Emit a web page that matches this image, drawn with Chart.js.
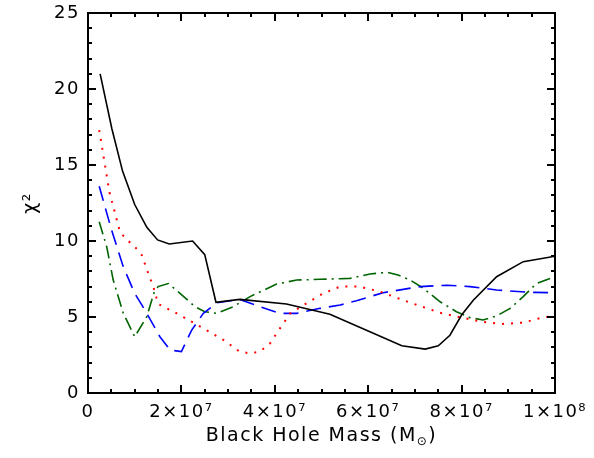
<!DOCTYPE html>
<html>
<head>
<meta charset="utf-8">
<script src="https://cdn.jsdelivr.net/npm/chart.js@4"></script>
<style>
  body { margin: 0; background: #fff; }
  canvas { display: block; }
</style>
</head>
<body>
<canvas id="chi2" width="594" height="458"></canvas>
<script>
Chart.defaults.font.family = "'DejaVu Sans', sans-serif";
Chart.defaults.color = '#000';

// black hole mass in units of 1e6 Msun, chi^2 values
const massBlack = [2.6, 5.1, 7.4, 10.0, 12.6, 14.9, 17.4, 22.4, 25.0, 27.4, 32.5, 42.5, 51.8, 61.1, 67.2, 72.2, 75.0, 77.5, 80.0, 82.5, 87.5, 93.2, 100];
const chiBlack = [21.0, 17.4, 14.6, 12.4, 10.9, 10.07, 9.8, 10.0, 9.1, 5.97, 6.16, 5.86, 5.18, 3.93, 3.11, 2.89, 3.11, 3.8, 5.13, 6.1, 7.65, 8.64, 9.0];

const massRed = [2.4, 4.6, 6.85, 8.3, 9.7, 11.5, 12.9, 14.0, 15.0, 19.0, 24.7, 29.0, 32.5, 34.7, 36.8, 39.0, 41.1, 43.3, 46.8, 50.4, 54.0, 58.2, 62.5, 69.0, 75.4, 79.7, 84.3, 88.6, 93.2, 97.5, 100];
const chiRed = [17.3, 13.2, 10.6, 10.07, 9.74, 9.08, 7.87, 7.0, 5.86, 5.24, 4.25, 3.49, 2.72, 2.61, 2.72, 3.27, 4.25, 5.24, 5.9, 6.56, 7.0, 7.0, 6.67, 5.94, 5.28, 4.98, 4.69, 4.54, 4.63, 4.98, 5.05];

const massBlue = [2.4, 5.07, 7.56, 10.0, 12.6, 15.4, 17.6, 20.0, 22.2, 24.7, 27.6, 32.5, 36.8, 41.1, 44.7, 49.7, 54.0, 57.5, 63.2, 71.1, 76.8, 81.8, 87.5, 94.6, 100];
const chiBlue = [13.6, 10.7, 8.3, 6.56, 5.24, 3.7, 2.83, 2.72, 4.14, 5.24, 5.94, 6.16, 5.68, 5.24, 5.24, 5.57, 5.79, 6.07, 6.6, 7.0, 7.09, 7.0, 6.78, 6.62, 6.6];

const massGreen = [2.4, 4.0, 5.4, 7.56, 10.0, 12.6, 14.1, 15.0, 17.2, 19.7, 22.9, 25.0, 27.6, 31.1, 34.7, 40.4, 44.7, 49.7, 54.0, 56.1, 60.4, 64.0, 66.4, 69.0, 71.8, 75.4, 78.9, 81.8, 84.6, 87.5, 90.4, 93.2, 96.0, 100];
const chiGreen = [11.27, 9.63, 7.43, 5.24, 3.7, 5.02, 6.56, 7.0, 7.2, 6.56, 5.68, 5.35, 5.24, 5.68, 6.34, 7.17, 7.43, 7.48, 7.52, 7.54, 7.83, 7.94, 7.76, 7.43, 6.89, 6.0, 5.35, 4.96, 4.8, 5.07, 5.57, 6.34, 7.2, 7.65];

const xTickLabels = ['0', '2×10⁷', '4×10⁷', '6×10⁷', '8×10⁷', '1×10⁸'];
const yTickLabels = ['0', '5', '10', '15', '20', '25'];

const FONT = "'DejaVu Sans', sans-serif";
const SPACING = '1.5px';

function pts(xs, ys) {
    return xs.map((x, i) => ({ x: x * 1e6, y: ys[i] }));
}

// wider letter spacing, closer to the IDL vector font
const spacing = {
    id: 'spacing',
    beforeUpdate(chart) { chart.ctx.letterSpacing = SPACING; },
    beforeDraw(chart) { chart.ctx.letterSpacing = SPACING; }
};

// IDL-style box with inward major/minor ticks on all sides, plus x title with subscript
const boxTicks = {
    id: 'boxTicks',
    afterDatasetsDraw(chart) {
        const { ctx, chartArea: a, scales: { x, y } } = chart;
        ctx.save();
        ctx.strokeStyle = '#000';
        ctx.lineWidth = 2;
        ctx.strokeRect(a.left, a.top, a.right - a.left, a.bottom - a.top);
        ctx.beginPath();
        for (let v = 0; v <= 1e8 + 1; v += 5e6) {
            const px = Math.round(x.getPixelForValue(v));
            const len = (v % 2e7 === 0) ? 8 : 4;
            ctx.moveTo(px, a.bottom); ctx.lineTo(px, a.bottom - len);
            ctx.moveTo(px, a.top); ctx.lineTo(px, a.top + len);
        }
        for (let v = 0; v <= 25; v += 1) {
            const py = Math.round(y.getPixelForValue(v));
            const len = (v % 5 === 0) ? 8 : 4;
            ctx.moveTo(a.left, py); ctx.lineTo(a.left + len, py);
            ctx.moveTo(a.right, py); ctx.lineTo(a.right - len, py);
        }
        ctx.stroke();

        const main = 'Black Hole Mass (M', sub = '⊙', close = ')';
        ctx.letterSpacing = SPACING;
        ctx.fillStyle = '#000';
        ctx.textBaseline = 'alphabetic';
        ctx.textAlign = 'left';
        ctx.font = '19px ' + FONT;
        const w1 = ctx.measureText(main).width, w3 = ctx.measureText(close).width;
        ctx.font = '12px ' + FONT;
        const w2 = ctx.measureText(sub).width;
        const base = a.bottom + 48;
        let tx = (a.left + a.right) / 2 - (w1 + w2 + w3) / 2;
        ctx.font = '19px ' + FONT;
        ctx.fillText(main, tx, base);
        ctx.font = '12px ' + FONT;
        ctx.fillText(sub, tx + w1, base + 4);
        ctx.font = '19px ' + FONT;
        ctx.fillText(close, tx + w1 + w2, base);
        ctx.restore();
    }
};

new Chart(document.getElementById('chi2'), {
    type: 'line',
    data: {
        datasets: [
            { data: pts(massBlack, chiBlack), borderColor: '#000000', borderWidth: 1.6 },
            { data: pts(massRed, chiRed), borderColor: '#ff0000', borderWidth: 2, borderDash: [2, 7] },
            { data: pts(massBlue, chiBlue), borderColor: '#0000ff', borderWidth: 1.6, borderDash: [15, 8] },
            { data: pts(massGreen, chiGreen), borderColor: '#006400', borderWidth: 1.6, borderDash: [13, 5, 2, 5] }
        ]
    },
    options: {
        responsive: false,
        animation: false,
        devicePixelRatio: 1,
        elements: { point: { radius: 0 }, line: { tension: 0, fill: false } },
        layout: { padding: { top: 13, right: 39, left: 0, bottom: 0 } },
        plugins: { legend: { display: false }, tooltip: { enabled: false } },
        scales: {
            x: {
                type: 'linear', min: 0, max: 1e8,
                grid: { display: false, drawTicks: false },
                border: { display: false },
                ticks: {
                    stepSize: 2e7, padding: 9, maxRotation: 0, autoSkip: false,
                    font: { size: 18 },
                    callback: (v, i) => xTickLabels[i]
                },
                afterFit: s => { s.height = 65; s.paddingLeft = 0; s.paddingRight = 0; }
            },
            y: {
                min: 0, max: 25,
                grid: { display: false, drawTicks: false },
                border: { display: false },
                ticks: {
                    stepSize: 5, padding: 8,
                    font: { size: 18 },
                    callback: (v, i) => yTickLabels[i]
                },
                title: { display: true, text: 'χ²', font: { size: 19 }, padding: { top: 20 } },
                afterFit: s => { s.width = 88; s.paddingTop = 0; s.paddingBottom = 0; }
            }
        }
    },
    plugins: [spacing, boxTicks]
});
</script>
</body>
</html>
